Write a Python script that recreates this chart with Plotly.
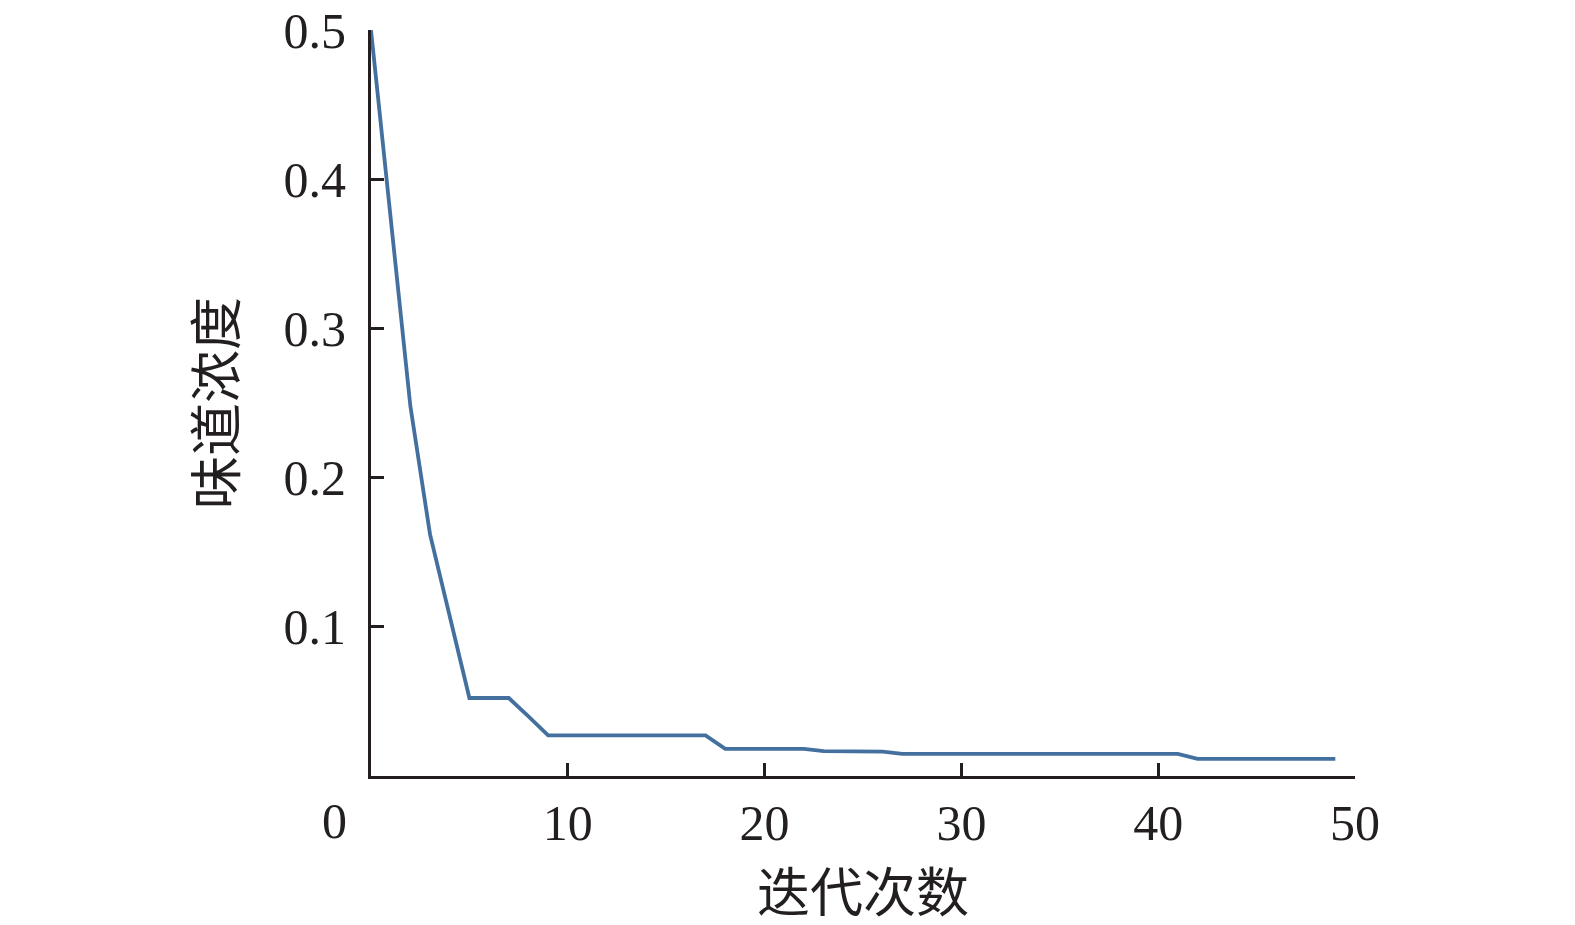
import plotly.graph_objects as go

# iteraciones y concentración de "sabor"
iteraciones = list(range(50))
concentracion = [
    0.5, 0.374, 0.248, 0.162, 0.107, 0.0523, 0.0523, 0.0523, 0.040, 0.0272,
    0.0272, 0.0272, 0.0272, 0.0272, 0.0272, 0.0272, 0.0272, 0.0272, 0.0182, 0.0182,
    0.0182, 0.0182, 0.0182, 0.0167, 0.0166, 0.0165, 0.0163, 0.0148, 0.0148, 0.0148,
    0.0148, 0.0148, 0.0148, 0.0148, 0.0148, 0.0148, 0.0148, 0.0148, 0.0148, 0.0148,
    0.0148, 0.0148, 0.0115, 0.0115, 0.0115, 0.0115, 0.0115, 0.0115, 0.0115, 0.0115,
]
x_ticks = [10, 20, 30, 40, 50]
y_ticks = [0.1, 0.2, 0.3, 0.4, 0.5]
y_ticktext = ["0.1", "0.2", "0.3", "0.4", "0.5"]

eje = '#231f20'
fuente_num = "Liberation Serif"
fuente_cjk = "Noto Sans CJK SC"

fig = go.Figure()
fig.add_trace(go.Scatter(x=iteraciones, y=concentracion, mode='lines',
                         line=dict(color='#43709e', width=3.8), showlegend=False))

# la página añade 8px de margen al body, se compensa aquí
fig.update_layout(
    width=1575, height=925,
    paper_bgcolor='white', plot_bgcolor='white',
    margin=dict(l=363, r=228, t=22, b=157, autoexpand=False),
    font=dict(family=fuente_num, color=eje, size=50),
    xaxis=dict(
        range=[0, 50.001], tickvals=x_ticks, ticks='inside', ticklen=13, tickwidth=2.5,
        tickcolor=eje, showline=True, linecolor=eje, linewidth=3, showgrid=False,
        zeroline=False, ticklabelstandoff=1, automargin=False, ticklabeloverflow='allow',
        tickfont=dict(family=fuente_num, size=50, color=eje),
        title=dict(text='迭代次数', font=dict(family=fuente_cjk, size=53, color=eje), standoff=0),
    ),
    yaxis=dict(
        range=[0, 0.5002], tickvals=y_ticks, ticktext=y_ticktext, ticks='inside', ticklen=13,
        tickwidth=2.5, tickcolor=eje, showline=True, linecolor=eje, linewidth=3,
        showgrid=False, zeroline=False, ticklabelstandoff=12, automargin=False,
        ticklabeloverflow='allow',
        tickfont=dict(family=fuente_num, size=50, color=eje),
        title=dict(text='味道浓度', font=dict(family=fuente_cjk, size=53, color=eje), standoff=30),
    ),
)

# etiqueta del origen, desplazada a la izquierda como en el original
fig.add_annotation(x=0, y=0, xref='x', yref='y', text='0', showarrow=False,
                   xshift=-37, yshift=-45, font=dict(family=fuente_num, size=50, color=eje))

fig.write_html("out.html")
